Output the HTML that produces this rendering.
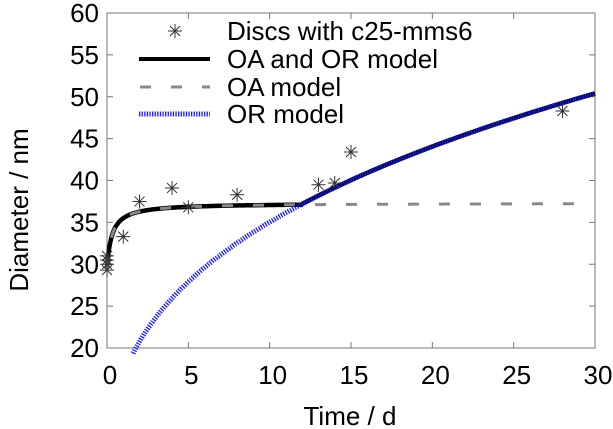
<!DOCTYPE html>
<html><head><meta charset="utf-8"><style>
html,body{margin:0;padding:0;background:#fff;}
svg{display:block;font-family:"Liberation Sans",sans-serif;}
</style></head><body>
<svg id="s" width="613" height="429" viewBox="0 0 613 429" xmlns="http://www.w3.org/2000/svg">
<rect x="107" y="13" width="488" height="335" fill="none" stroke="#777" stroke-width="1"/>
<g id="ticks" stroke="#777" stroke-width="1"></g>
<g id="labels" font-size="26" fill="#000"></g>
<text x="350" y="425" font-size="26" text-anchor="middle">Time / d</text>
<text transform="translate(28,210) rotate(-90)" font-size="26" text-anchor="middle">Diameter / nm</text>
<g id="curves"></g>
<g id="pts" stroke="#333" stroke-width="1"></g>
<g font-size="26">
<text x="227" y="40">Discs with c25-mms6</text>
<text x="227" y="68">OA and OR model</text>
<text x="227" y="96">OA model</text>
<text x="227" y="123">OR model</text>
</g>
<line x1="139" y1="59" x2="210" y2="59" stroke="#000" stroke-width="4"/>
<line x1="139" y1="87" x2="210" y2="87" stroke="#888" stroke-width="3" stroke-dasharray="11,20" stroke-dashoffset="-1"/>
<line x1="139" y1="114" x2="210" y2="114" stroke="#1a1aff" stroke-width="5" stroke-dasharray="1.3,1.3"/>
</svg>
<script>
const L=107,R=595,T=13,B=348;
const X=t=>L+(R-L)*t/30, Y=d=>B-(B-T)*(d-20)/40;
const ns="http://www.w3.org/2000/svg";
function el(p,tag,a,txt){const e=document.createElementNS(ns,tag);for(const k in a)e.setAttribute(k,a[k]);if(txt!=null)e.textContent=txt;document.getElementById(p).appendChild(e);return e;}
let tk="";
for(let d=20;d<=60;d+=5){const y=Y(d);tk+=`M${L} ${y}h6M${R} ${y}h-6`;el("labels","text",{x:L-8,y:y+9,"text-anchor":"end"},d);}
for(let t=0;t<=30;t+=5){const x=X(t);tk+=`M${x} ${B}v-6M${x} ${T}v6`;el("labels","text",{x:x+3,y:B+36,"text-anchor":"middle"},t);}
el("ticks","path",{d:tk,fill:"none"});
const OA=t=>37.3-7.8/(1+3.33*t);
const OR=t=>Math.cbrt(449+4252*t);
let pa="",pc="",pd="";
for(let i=0;i<=600;i++){const t=i/20;
 const c=t<12?OA(t):OR(t); pa+=(i?"L":"M")+X(t).toFixed(1)+" "+Y(c).toFixed(1);
 if(t<=29.6) pd+=(pd?"L":"M")+X(t).toFixed(1)+" "+Y(OA(t)).toFixed(1);
}
for(let i=0;i<=600;i++){const t=1.6+i*(30-1.6)/600;pc+=(i?"L":"M")+X(t).toFixed(1)+" "+Y(OR(t)).toFixed(1);}
el("curves","path",{d:pa,fill:"none",stroke:"#000","stroke-width":4.5});
el("curves","path",{d:pd,fill:"none",stroke:"#888","stroke-width":3,"stroke-dasharray":"11,20"});
el("curves","path",{d:pc,fill:"none",stroke:"#1a1aff","stroke-width":5,"stroke-dasharray":"1.3,1.3"});
const P=[[0,29.3],[0,30],[0,30.5],[0,31],[1,33.3],[2,37.5],[4,39.1],[5,36.8],[8,38.3],[13,39.5],[14,39.7],[15,43.4],[28,48.3]];
function star(x,y){el("pts","path",{d:`M${x-7} ${y}h14M${x} ${y-7}v14M${x-5} ${y-5}l10 10M${x-5} ${y+5}l10 -10`,fill:"none"});}
P.forEach(p=>star(X(p[0]),Y(p[1])));
star(175,31);
</script>
</body></html>
